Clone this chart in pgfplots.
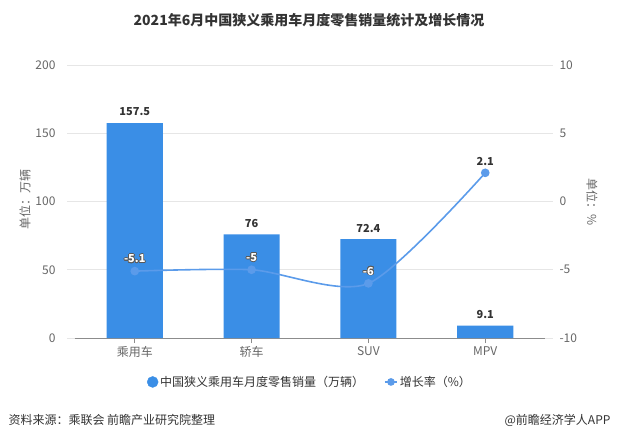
\documentclass[border=0pt]{standalone}
\usepackage{fontspec}
\setmainfont{Noto Sans CJK SC}
\usepackage{pgfplots}
\pgfplotsset{compat=1.18}
\usepackage{contour}
\contourlength{0.7pt}
\definecolor{barblue}{HTML}{3A8EE6}
\definecolor{lineblue}{HTML}{5B9BEA}
\definecolor{gridgray}{HTML}{E6E6E6}
\definecolor{ticktext}{HTML}{666666}
\definecolor{titletext}{HTML}{333333}
\begin{document}
\begin{tikzpicture}[x=1pt,y=1pt]
\path[use as bounding box] (0,0) rectangle (618,442);
\node[font=\fontsize{14}{16}\selectfont\bfseries, text=titletext] at (309,422) {2021年6月中国狭义乘用车月度零售销量统计及增长情况};
\node[rotate=90, font=\fontsize{12}{14}\selectfont, text=ticktext] at (25,242) {单位：万辆};
\node[rotate=-90, font=\fontsize{12}{14}\selectfont, text=ticktext] at (592,240) {单位：\%};
\node[anchor=west, font=\fontsize{12}{14}\selectfont, text=titletext] at (5,22) {资料来源：乘联会 前瞻产业研究院整理};
\node[anchor=east, font=\fontsize{12}{14}\selectfont, text=titletext] at (614,22) {@前瞻经济学人APP};
\begin{axis}[
  at={(67pt,104pt)}, anchor=south west, scale only axis,
  width=486pt, height=273pt,
  xmin=-0.58, xmax=3.58, ymin=0, ymax=200,
  ytick={0,50,100,150,200},
  xtick={0,1,2,3}, xticklabels={乘用车,轿车,SUV,MPV},
  axis line style={draw=none},
  ymajorgrids, grid style={gridgray, line width=0.8pt},
  xtick pos=left, ytick pos=left,
  major tick length=5pt, xtick align=outside,
  xtick style={color=black!45, line width=0.8pt},
  ytick style={draw=none},
  tick label style={font=\fontsize{12}{14}\selectfont, text=ticktext},
  /pgf/number format/assume math mode=true,
  yticklabel style={xshift=-8pt},
]
\draw[color=black!45, line width=0.8pt] (axis cs:-0.514,0) -- (axis cs:3.514,0);
\addplot[ybar, bar width=0.48, fill=barblue, draw=none,
  nodes near coords,
  nodes near coords style={font=\fontsize{11}{13}\selectfont\bfseries, text=titletext, anchor=center, yshift=11pt}]
  coordinates {(0,157.5) (1,76) (2,72.4) (3,9.1)};
\end{axis}
\begin{axis}[
  at={(67pt,104pt)}, anchor=south west, scale only axis,
  width=486pt, height=273pt,
  xmin=-0.58, xmax=3.58, ymin=-10, ymax=10,
  ytick={-10,-5,0,5,10},
  xtick=\empty,
  axis line style={draw=none},
  ytick pos=right, ytick style={draw=none},
  tick label style={font=\fontsize{12}{14}\selectfont, text=ticktext},
  /pgf/number format/assume math mode=true,
  yticklabel style={xshift=3pt},
  legend style={draw=none, at={(0.5,-0.161)}, anchor=center,
    font=\fontsize{12}{14}\selectfont, text=titletext,
    /tikz/every even column/.append style={column sep=18pt}},
  legend columns=2, legend cell align=left,
  legend entries={中国狭义乘用车月度零售销量（万辆）,增长率（\%）},
]
\addlegendimage{only marks, mark=*, mark size=5.5pt, color=barblue}
\addplot[lineblue, line width=1.6pt, smooth, tension=0.45, mark=*, mark size=3.5pt,
  mark options={fill=lineblue, draw=lineblue},
  legend image code/.code={\draw[lineblue, line width=1.6pt] (0pt,0pt) -- (12pt,0pt); \fill[lineblue] (6pt,0pt) circle (3pt);}]
  coordinates {(0,-5.1) (1,-5) (2,-6) (3,2.1)};
\addplot[draw=none, forget plot,
  nodes near coords={\contour{black!65}{\textcolor{white}{\pgfmathprintnumber\pgfplotspointmeta}}},
  nodes near coords style={font=\fontsize{11}{13}\selectfont\bfseries, anchor=center, yshift=12pt}]
  coordinates {(0,-5.1) (1,-5) (2,-6)};
\addplot[draw=none, forget plot,
  nodes near coords,
  nodes near coords style={font=\fontsize{11}{13}\selectfont\bfseries, text=titletext, anchor=center, yshift=11pt}]
  coordinates {(3,2.1)};
\end{axis}
\end{tikzpicture}
\end{document}
